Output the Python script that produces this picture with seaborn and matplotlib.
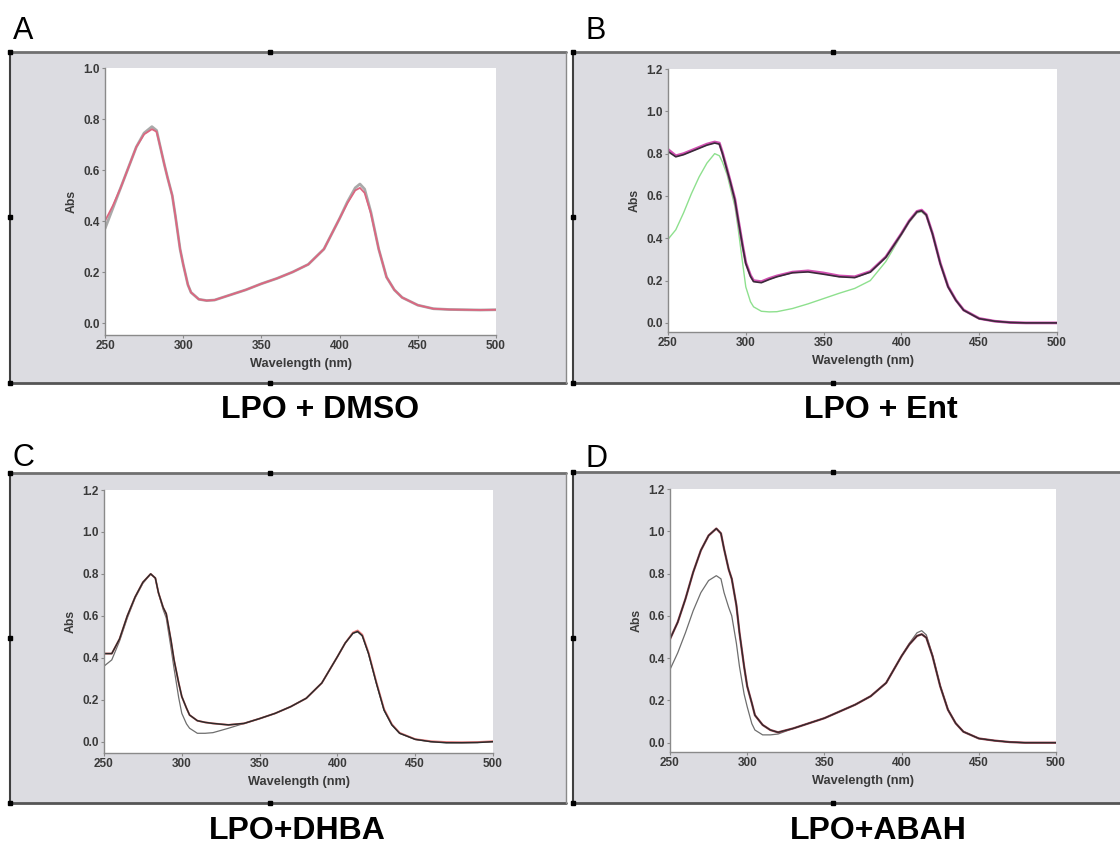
import numpy as np
import pandas as pd
import matplotlib
matplotlib.use("Agg")
import matplotlib.pyplot as plt
from matplotlib.patches import Rectangle
from matplotlib.lines import Line2D
import seaborn as sns

sns.set_style("white")
plt.rcParams['font.family'] = ['Liberation Sans', 'DejaVu Sans']

# ---------------- data ----------------
wl = [250, 255, 260, 265, 270, 275, 280, 283, 285, 288, 290, 293, 295, 298, 300, 303, 305,
      310, 315, 320, 330, 340, 350, 360, 370, 380, 390, 400, 405, 410, 413, 416, 420, 425,
      430, 435, 440, 450, 460, 470, 480, 490, 500]

# Panel A: LPO + DMSO
a_gray = [0.37, 0.45, 0.53, 0.61, 0.69, 0.745, 0.77, 0.755, 0.70, 0.62, 0.57, 0.50, 0.42, 0.29, 0.23,
          0.15, 0.12, 0.093, 0.088, 0.09, 0.11, 0.13, 0.154, 0.175, 0.20, 0.23, 0.29, 0.41, 0.475,
          0.53, 0.545, 0.525, 0.435, 0.29, 0.18, 0.13, 0.10, 0.07, 0.056, 0.053, 0.052, 0.051, 0.052]
a_pink = [0.40, 0.46, 0.53, 0.61, 0.69, 0.74, 0.76, 0.75, 0.70, 0.62, 0.57, 0.50, 0.42, 0.29, 0.23,
          0.15, 0.12, 0.093, 0.088, 0.09, 0.11, 0.13, 0.154, 0.175, 0.20, 0.23, 0.29, 0.41, 0.47,
          0.52, 0.53, 0.51, 0.43, 0.29, 0.18, 0.13, 0.10, 0.07, 0.056, 0.053, 0.052, 0.051, 0.052]

# Panel B: LPO + Ent
b_black = [0.81, 0.785, 0.795, 0.81, 0.825, 0.84, 0.85, 0.845, 0.80, 0.72, 0.667, 0.58, 0.49, 0.36,
           0.28, 0.22, 0.195, 0.19, 0.205, 0.218, 0.237, 0.241, 0.23, 0.218, 0.214, 0.24, 0.31, 0.42,
           0.48, 0.525, 0.53, 0.51, 0.42, 0.28, 0.17, 0.107, 0.06, 0.02, 0.008, 0.002, 0.0, 0.0, 0.0]
b_magenta = [0.82, 0.79, 0.80, 0.815, 0.83, 0.845, 0.855, 0.85, 0.805, 0.725, 0.67, 0.585, 0.495, 0.365,
             0.285, 0.225, 0.20, 0.195, 0.21, 0.222, 0.24, 0.246, 0.236, 0.222, 0.218, 0.243, 0.312, 0.422,
             0.482, 0.527, 0.533, 0.512, 0.422, 0.282, 0.172, 0.108, 0.061, 0.021, 0.008, 0.002, 0.0, 0.0, 0.0]
b_green = [0.395, 0.44, 0.52, 0.61, 0.69, 0.755, 0.80, 0.79, 0.76, 0.70, 0.64, 0.55, 0.45, 0.28, 0.17,
           0.10, 0.076, 0.055, 0.052, 0.053, 0.068, 0.09, 0.115, 0.14, 0.163, 0.20, 0.29, 0.415, 0.475,
           0.52, 0.525, 0.505, 0.42, 0.28, 0.17, 0.107, 0.06, 0.02, 0.008, 0.002, 0.0, 0.0, 0.0]

# Panel C: LPO+DHBA
c_black = [0.42, 0.42, 0.49, 0.60, 0.69, 0.76, 0.80, 0.78, 0.71, 0.64, 0.61, 0.485, 0.39, 0.28, 0.215,
           0.16, 0.127, 0.10, 0.092, 0.087, 0.08, 0.087, 0.11, 0.135, 0.167, 0.207, 0.28, 0.405, 0.47,
           0.517, 0.525, 0.505, 0.42, 0.28, 0.15, 0.08, 0.04, 0.011, 0.0, -0.005, -0.005, -0.004, 0.0]
c_gray = [0.36, 0.39, 0.48, 0.59, 0.685, 0.755, 0.80, 0.78, 0.71, 0.63, 0.59, 0.45, 0.35, 0.21, 0.135,
          0.085, 0.064, 0.04, 0.04, 0.043, 0.064, 0.087, 0.11, 0.135, 0.167, 0.207, 0.28, 0.405, 0.47,
          0.517, 0.525, 0.505, 0.42, 0.28, 0.15, 0.08, 0.04, 0.011, 0.0, -0.005, -0.005, -0.004, 0.0]
c_red = [0.42, 0.42, 0.49, 0.60, 0.69, 0.76, 0.80, 0.78, 0.71, 0.64, 0.61, 0.485, 0.39, 0.28, 0.215,
         0.16, 0.127, 0.10, 0.092, 0.087, 0.08, 0.087, 0.11, 0.135, 0.167, 0.207, 0.28, 0.405, 0.47,
         0.52, 0.53, 0.51, 0.425, 0.285, 0.155, 0.083, 0.042, 0.012, 0.002, -0.002, -0.003, -0.002, 0.002]

# Panel D: LPO+ABAH
d_upper = [0.49, 0.57, 0.68, 0.806, 0.91, 0.98, 1.013, 0.99, 0.917, 0.82, 0.775, 0.65, 0.52, 0.36, 0.267,
           0.187, 0.13, 0.084, 0.06, 0.049, 0.068, 0.092, 0.116, 0.148, 0.18, 0.22, 0.283, 0.41, 0.465,
           0.505, 0.513, 0.497, 0.41, 0.267, 0.156, 0.092, 0.052, 0.02, 0.01, 0.003, 0.0, 0.0, 0.0]
d_lower = [0.346, 0.425, 0.52, 0.624, 0.71, 0.767, 0.79, 0.775, 0.71, 0.64, 0.60, 0.47, 0.36, 0.23, 0.17,
           0.09, 0.06, 0.037, 0.037, 0.041, 0.068, 0.092, 0.116, 0.148, 0.18, 0.22, 0.283, 0.41, 0.47,
           0.52, 0.53, 0.51, 0.415, 0.27, 0.158, 0.093, 0.053, 0.02, 0.01, 0.003, 0.0, 0.0, 0.0]

titles = ["LPO + DMSO", "LPO + Ent", "LPO+DHBA", "LPO+ABAH"]
letters = ["A", "B", "C", "D"]
yticks_list = [[0.0, 0.2, 0.4, 0.6, 0.8, 1.0],
               [0.0, 0.2, 0.4, 0.6, 0.8, 1.0, 1.2],
               [0.0, 0.2, 0.4, 0.6, 0.8, 1.0, 1.2],
               [0.0, 0.2, 0.4, 0.6, 0.8, 1.0, 1.2]]
xticks = [250, 300, 350, 400, 450, 500]

# ---------------- layout ----------------
W, H = 1120, 846
fig = plt.figure(figsize=(W / 100, H / 100), dpi=100)
fig.patch.set_facecolor("white")

def fx(px):
    return px / W

def fy(py):
    return 1 - py / H

def fig_line(xs, ys, **kw):
    fig.lines.append(Line2D([fx(v) for v in xs], [fy(v) for v in ys],
                            transform=fig.transFigure, **kw))

# gray frames (x0, y0, x1, y1) in pixels; right border drawn for left-column frames
frames = [(10, 52, 566, 383, True), (573, 52, 1120, 383, False),
          (10, 473, 566, 803, True), (573, 472, 1120, 803, False)]
for (x0, y0, x1, y1, rb) in frames:
    fig.patches.append(Rectangle((fx(x0), fy(y1)), fx(x1 - x0), (y1 - y0) / H,
                                 transform=fig.transFigure, facecolor="#dcdce1",
                                 edgecolor="none", zorder=-3))
    fig_line([x0, x1], [y0, y0], color="#707070", lw=2.0, zorder=-2)
    fig_line([x0, x1], [y1, y1], color="#555555", lw=2.0, zorder=-2)
    fig_line([x0, x0], [y0, y1], color="#404040", lw=1.5, zorder=-2)
    if rb:
        fig_line([x1, x1], [y0, y1], color="#8a8a8a", lw=1.0, zorder=-2)
    xm = x0 + 260 if x0 < 100 else x0 + 260
    ym = (y0 + y1) / 2
    fig_line([x0, xm, x0, x0, xm], [y0, y0, ym, y1, y1], color="black", lw=0,
             marker="s", ms=2.2, zorder=-1)

# axes rectangles in pixels (x0, y0_top, x1, y1_bottom)
ax_px = [(105, 68, 496, 335), (668, 69, 1057, 332), (104, 490, 493, 753), (670, 489, 1056, 752)]
ylims = [(-0.047, 1.0), (-0.043, 1.2), (-0.054, 1.2), (-0.044, 1.2)]

series = [
    [(a_gray, "#a9a9a9", 2.0), (a_pink, "#dc6680", 1.3)],
    [(b_green, "#8ee08e", 1.0), (b_magenta, "#d04fb0", 2.0), (b_black, "#3a2a3a", 1.2)],
    [(c_gray, "#6e6e6e", 0.9), (c_red, "#e87a7a", 1.4), (c_black, "#2b2b2b", 1.1)],
    [(d_lower, "#6e6e6e", 0.9), (d_upper, "#a04050", 1.6), (d_upper, "#2b2b2b", 0.9)],
]

title_pos = [(320, 410), (881, 410), (297, 831), (878, 831)]
letter_pos = [(13, 39), (586, 39), (13, 466), (586, 467)]

for i in range(4):
    x0, y0, x1, y1 = ax_px[i]
    ax = fig.add_axes([fx(x0), fy(y1), fx(x1 - x0), (y1 - y0) / H])
    ax.set_zorder(1)
    ax.set_facecolor("white")
    for vals, col, lw in series[i]:
        sns.lineplot(x=wl, y=vals, ax=ax, color=col, lw=lw)
    ax.set_xlim(250, 500)
    ax.set_ylim(*ylims[i])
    ax.set_xticks(xticks)
    ax.set_yticks(yticks_list[i])
    ax.set_xticklabels([str(t) for t in xticks])
    ax.set_yticklabels([f"{t:.1f}" for t in yticks_list[i]])
    for s in ["top", "right"]:
        ax.spines[s].set_visible(False)
    for s in ["left", "bottom"]:
        ax.spines[s].set_color("#8a8a8a")
        ax.spines[s].set_linewidth(1.0)
    ax.tick_params(axis="both", direction="out", length=2.5, width=0.8, color="#8a8a8a",
                   labelsize=8.5, labelcolor="#3a3a3a", pad=1.2, left=True, bottom=True)
    for lab in ax.get_xticklabels() + ax.get_yticklabels():
        lab.set_fontweight("bold")
    ax.set_xlabel("Wavelength (nm)", fontsize=9.2, fontweight="bold", color="#3a3a3a", labelpad=4)
    ax.set_ylabel("Abs", fontsize=8.8, fontweight="bold", color="#3a3a3a", labelpad=4)

    tx, ty = title_pos[i]
    fig.text(fx(tx), fy(ty), titles[i], ha="center", va="center", fontsize=23,
             fontweight="bold", color="black")
    lx, ly = letter_pos[i]
    fig.text(fx(lx), fy(ly), letters[i], ha="left", va="baseline", fontsize=22, color="black")

fig.savefig("out.png", dpi=100)
